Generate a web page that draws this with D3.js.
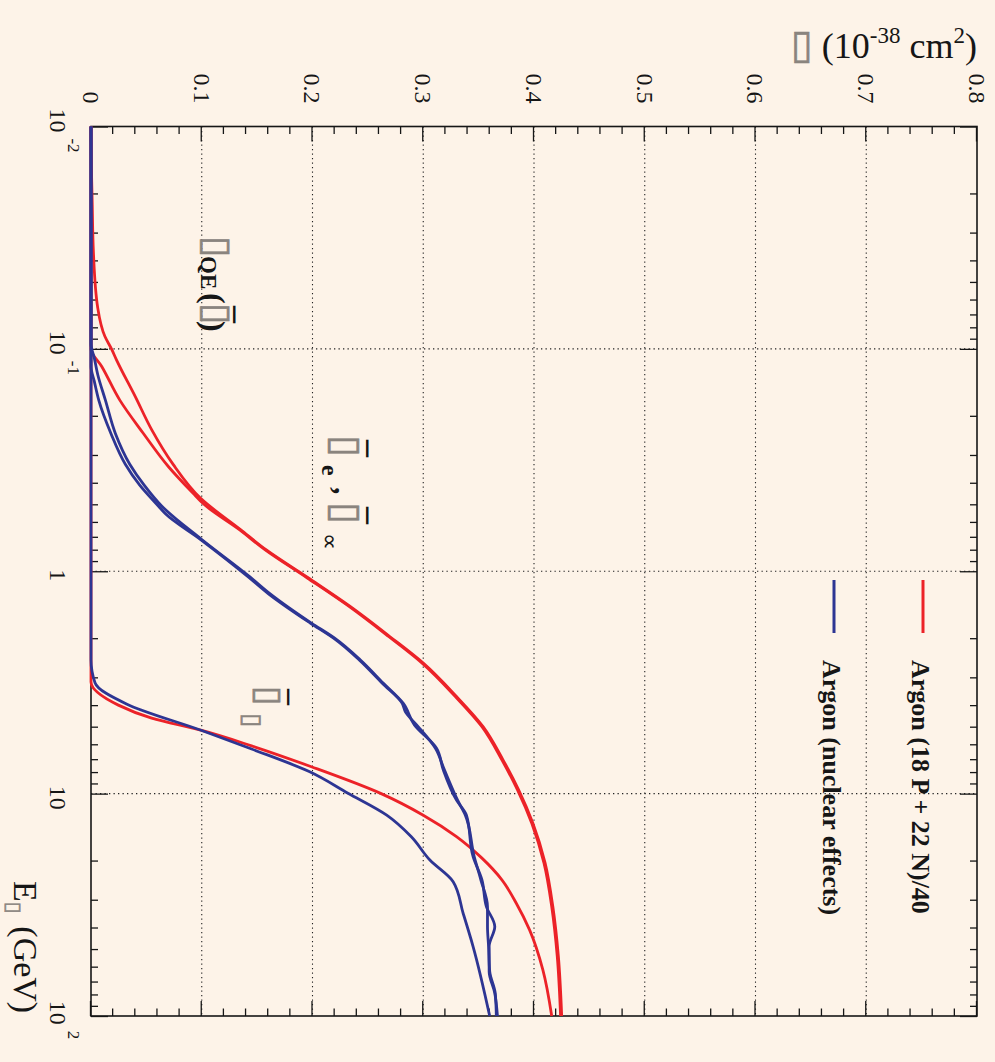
<!DOCTYPE html>
<html>
<head>
<meta charset="utf-8">
<script src="https://cdn.jsdelivr.net/npm/d3@7.9.0/dist/d3.min.js"></script>
<style>
  html, body { margin: 0; padding: 0; background: #fdf3e8; }
  svg { display: block; font-family: "Liberation Serif", serif; }
</style>
</head>
<body>
<svg id="chart" width="995" height="1062"></svg>
<script>
// axis ticks
const sigmaTicks = [0, 0.1, 0.2, 0.3, 0.4, 0.5, 0.6, 0.7, 0.8];
const sigmaLabels = ['0', '0.1', '0.2', '0.3', '0.4', '0.5', '0.6', '0.7', '0.8'];
const energyTicks = [0.01, 0.1, 1, 10, 100];
const energyBase = ['10', '10', '1', '10', '10'];
const energyExp = ['-2', '-1', '', '', '2'];

// [E (GeV), sigma (1e-38 cm2)] -- Argon (18 P + 22 N)/40
const freeNuebar = [[0.01, 0], [0.015, 0.0003], [0.021, 0.001], [0.037, 0.0022], [0.065, 0.006],
  [0.088, 0.0126], [0.1, 0.0185], [0.112, 0.023], [0.164, 0.040], [0.232, 0.055], [0.33, 0.074],
  [0.47, 0.099], [0.65, 0.135], [0.8, 0.158], [1.07, 0.196], [1.44, 0.234], [1.97, 0.27],
  [2.59, 0.3], [3.66, 0.33], [5.0, 0.354], [7.05, 0.372], [9.6, 0.386], [13.6, 0.399],
  [20.5, 0.41], [32.2, 0.417], [54, 0.422], [100, 0.425]];
const freeNumubar = [[0.01, 0], [0.1, 0], [0.12, 0.0097], [0.17, 0.026], [0.239, 0.047],
  [0.339, 0.070], [0.445, 0.092], [0.5, 0.102], [0.65, 0.134], [0.8, 0.157], [1.07, 0.195],
  [1.44, 0.233], [1.97, 0.269], [2.59, 0.299], [3.66, 0.329], [5.0, 0.353], [7.05, 0.371],
  [9.6, 0.385], [13.6, 0.398], [20.5, 0.409], [32.2, 0.416], [54, 0.421], [100, 0.424]];
const freeNutaubar = [[0.01, 0], [3.15, 0], [4.0, 0.0247], [4.58, 0.0548], [5.2, 0.1],
  [6.1, 0.145], [7.57, 0.199], [10, 0.262], [12.5, 0.3], [15.6, 0.33], [19.5, 0.353],
  [24.4, 0.371], [31.1, 0.384], [41, 0.396], [62, 0.408], [100, 0.416]];

// Argon (nuclear effects)
const nucNuebar = [[0.01, 0], [0.095, 0], [0.11, 0.003], [0.13, 0.006], [0.17, 0.013],
  [0.24, 0.022], [0.33, 0.035], [0.41, 0.048], [0.51, 0.064], [0.72, 0.1], [1.06, 0.1435],
  [1.26, 0.1615], [1.71, 0.199], [2.0, 0.22], [2.5, 0.243], [3.19, 0.264], [3.93, 0.282],
  [4.91, 0.292], [6.25, 0.312], [7.8, 0.318], [10.7, 0.33], [12.5, 0.339], [19.2, 0.345],
  [24.4, 0.353], [32.2, 0.357], [39.6, 0.3646], [48.7, 0.3595], [63, 0.3595], [79, 0.3646],
  [100, 0.367]];
const nucNumubar = [[0.01, 0], [0.12, 0], [0.14, 0.003], [0.17, 0.007], [0.24, 0.018],
  [0.33, 0.031], [0.41, 0.044], [0.51, 0.061], [0.55, 0.067], [0.72, 0.099], [1.06, 0.142],
  [1.26, 0.16], [1.71, 0.198], [2.0, 0.219], [2.5, 0.242], [3.19, 0.263], [3.93, 0.281],
  [4.3, 0.284], [4.91, 0.294], [6.25, 0.311], [7.8, 0.319], [10.7, 0.331], [12.5, 0.338],
  [19.2, 0.346], [24.4, 0.352], [32.2, 0.358], [39.6, 0.358], [48.7, 0.359], [63, 0.36],
  [79, 0.365], [100, 0.366]];
const nucNutaubar = [[0.01, 0], [2.5, 0], [3.17, 0.0036], [3.95, 0.032], [5.2, 0.1],
  [6.3, 0.145], [7.96, 0.197], [9.96, 0.232], [12.5, 0.267], [15.6, 0.289], [19.9, 0.306],
  [24.9, 0.327], [34.5, 0.336], [48.7, 0.345], [100, 0.36]];

const W = 995;
const red = '#ec2228', blue = '#2d3593', boxGrey = '#8a847e', ink = '#161616';

const svg = d3.select('#chart');
svg.append('rect').attr('width', 995).attr('height', 1062).attr('fill', '#fdf3e8');

// whole plot is drawn upright, then turned 90 degrees clockwise
const g = svg.append('g').attr('transform', `translate(${W},0) rotate(90)`);

let x = d3.scaleLog().domain([0.01, 100]).range([126.5, 1016]);
let y = d3.scaleLinear().domain([0, 0.8]).range([904, 18]);

// dotted grid
g.selectAll('.gx').data([0.1, 1, 10]).join('line')
  .attr('x1', d => x(d)).attr('x2', d => x(d))
  .attr('y1', y(0)).attr('y2', y(0.8));
g.selectAll('.gy').data(sigmaTicks.slice(1, -1)).join('line')
  .attr('x1', x(0.01)).attr('x2', x(100))
  .attr('y1', d => y(d)).attr('y2', d => y(d));
g.selectAll('line').attr('stroke', '#222').attr('stroke-width', 1.1).attr('stroke-dasharray', '1.3,3.2');

// ticks
let sigmaMinor = d3.range(0, 41).filter(i => i % 5 !== 0).map(i => i * 0.02);
let energyMinor = [];
[0.01, 0.1, 1, 10].forEach(d => { for (let m = 2; m <= 9; m++) energyMinor.push(d * m); });

function addAxis(axis, tx, ty) {
  let a = g.append('g').attr('transform', `translate(${tx},${ty})`).call(axis);
  a.select('.domain').remove();
  a.selectAll('line').attr('stroke', ink).attr('stroke-width', 1.3);
  a.attr('font-family', 'Liberation Serif').attr('font-size', 24);
  a.selectAll('text').attr('fill', ink);
  return a;
}
addAxis(d3.axisLeft(y).tickValues(sigmaTicks).tickSizeInner(-15).tickSizeOuter(0).tickPadding(23)
  .tickFormat((d, i) => sigmaLabels[i]), x(0.01), 0);
addAxis(d3.axisLeft(y).tickValues(sigmaMinor).tickSizeInner(-7.5).tickSizeOuter(0).tickFormat(''), x(0.01), 0);
addAxis(d3.axisRight(y).tickValues(sigmaTicks).tickSizeInner(-15).tickSizeOuter(0).tickFormat(''), x(100), 0);
addAxis(d3.axisRight(y).tickValues(sigmaMinor).tickSizeInner(-7.5).tickSizeOuter(0).tickFormat(''), x(100), 0);
addAxis(d3.axisBottom(x).tickValues(energyTicks).tickSizeInner(-17).tickSizeOuter(0).tickFormat(''), 0, y(0));
addAxis(d3.axisBottom(x).tickValues(energyMinor).tickSizeInner(-7).tickSizeOuter(0).tickFormat(''), 0, y(0));
addAxis(d3.axisTop(x).tickValues(energyTicks).tickSizeInner(-17).tickSizeOuter(0).tickFormat(''), 0, y(0.8));
addAxis(d3.axisTop(x).tickValues(energyMinor).tickSizeInner(-7).tickSizeOuter(0).tickFormat(''), 0, y(0.8));

// energy labels 10^n
energyTicks.forEach((e, i) => {
  let t = g.append('text').attr('x', x(e) + 4).attr('y', 945)
    .attr('text-anchor', 'middle').attr('font-size', 24).attr('fill', ink);
  t.append('tspan').text(energyBase[i]);
  if (energyExp[i]) t.append('tspan').attr('dx', 6).attr('dy', -18).attr('font-size', 17).text(energyExp[i]);
});

// frame
g.append('rect').attr('x', x(0.01)).attr('y', y(0.8))
  .attr('width', x(100) - x(0.01)).attr('height', y(0) - y(0.8))
  .attr('fill', 'none').attr('stroke', ink).attr('stroke-width', 1.6);

// curves
let line = d3.line().x(d => x(d[0])).y(d => y(d[1])).curve(d3.curveMonotoneX);
[freeNuebar, freeNumubar, freeNutaubar].forEach(s => {
  g.append('path').attr('d', line(s)).attr('fill', 'none').attr('stroke', red).attr('stroke-width', 2.8);
});
[nucNuebar, nucNumubar, nucNutaubar].forEach(s => {
  g.append('path').attr('d', line(s)).attr('fill', 'none').attr('stroke', blue).attr('stroke-width', 2.8);
});

// text helper, positions in the upright frame
const box = '\u25AF';
function put(u, v, str, size, opts = {}) {
  let t = g.append('text').attr('x', u).attr('y', v).attr('font-size', size)
    .attr('fill', opts.fill || ink).text(str);
  if (opts.bold) t.attr('font-weight', 'bold');
  if (opts.family) t.attr('font-family', opts.family);
  return t;
}
function putBox(u, v, size) {
  return put(u, v, box, size, { family: 'DejaVu Sans', fill: boxGrey })
    .attr('stroke', boxGrey).attr('stroke-width', 0.6);
}

// legend
g.append('line').attr('x1', 580).attr('x2', 633).attr('y1', 72).attr('y2', 72)
  .attr('stroke', red).attr('stroke-width', 3);
g.append('line').attr('x1', 580).attr('x2', 633).attr('y1', 161).attr('y2', 161)
  .attr('stroke', blue).attr('stroke-width', 3);
put(660, 83, 'Argon (18 P + 22 N)/40', 26, { bold: true });
put(660, 172, 'Argon (nuclear effects)', 26, { bold: true });

// sigma_QE (nu-bar)
putBox(236, 790, 38);
put(256, 794, 'QE', 23, { bold: true });
put(293, 792, '(', 32, { bold: true });
putBox(303, 790, 38);
put(306, 785, '\u00AF', 34, { bold: true });
put(321, 792, ')', 32, { bold: true });

// nu-bar e , nu-bar mu
putBox(435, 662, 40);
put(440, 652, '\u00AF', 34, { bold: true });
put(465, 673, 'e', 24, { bold: true });
put(487, 660, ',', 30, { bold: true });
putBox(502, 662, 40);
put(507, 652, '\u00AF', 34, { bold: true });
put(533, 673, '\u221D', 24);

// nu-bar tau
putBox(686, 738, 36);
put(689, 730, '\u00AF', 32, { bold: true });
putBox(713, 751, 26);

// x title
let xt = g.append('text').attr('x', 881).attr('y', 981).attr('font-size', 34).attr('fill', ink);
xt.append('tspan').text('E');
xt.append('tspan').attr('dy', 7).attr('font-size', 21).attr('font-family', 'DejaVu Sans')
  .attr('fill', boxGrey).attr('stroke', boxGrey).attr('stroke-width', 0.5).text(box);
xt.append('tspan').attr('dy', -7).attr('dx', 13).text('(GeV)');

// y title, upright on the page
let yt = svg.append('text').attr('x', 977).attr('y', 58).attr('text-anchor', 'end')
  .attr('font-size', 36).attr('fill', ink);
yt.append('tspan').attr('font-family', 'DejaVu Sans').attr('fill', boxGrey)
  .attr('stroke', boxGrey).attr('stroke-width', 0.6).attr('font-size', 40).text(box);
yt.append('tspan').text(' (10');
yt.append('tspan').attr('dy', -15).attr('font-size', 23).text('-38');
yt.append('tspan').attr('dy', 15).text(' cm');
yt.append('tspan').attr('dy', -15).attr('font-size', 23).text('2');
yt.append('tspan').attr('dy', 15).text(')');
</script>
</body>
</html>
